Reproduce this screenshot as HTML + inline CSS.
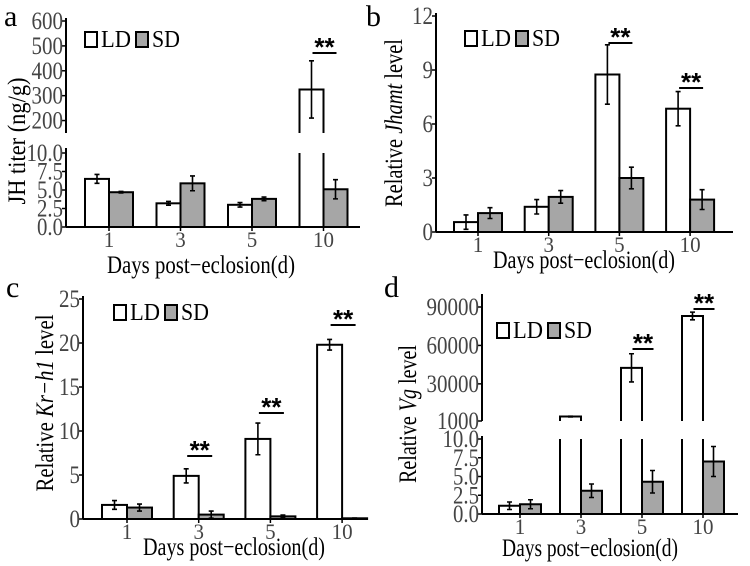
<!DOCTYPE html>
<html><head><meta charset="utf-8"><style>
html,body{margin:0;padding:0;background:#fff;}
svg{display:block;font-family:"Liberation Serif","Times New Roman",serif;}
</style></head><body>
<svg id="chart" width="750" height="566" viewBox="0 0 750 566" xmlns="http://www.w3.org/2000/svg"></svg>
<script>
const categories = ["1","3","5","10"];
// Panel a: JH titer
const aLD = [6.5, 3.2, 3.0, 325];
const aLDerr = [0.6, 0.25, 0.3, 115];
const aSD = [4.7, 5.9, 3.8, 5.1];
const aSDerr = [0.1, 1.0, 0.25, 1.3];
const aLowTicks = ["0.0","2.5","5.0","7.5","10.0"];
const aUpTicks = ["200","300","400","500","600"];
const aSig = [false,false,false,true];
// Panel b: Jhamt
const bLD = [0.55, 1.4, 8.75, 6.85];
const bLDerr = [0.4, 0.4, 1.65, 0.95];
const bSD = [1.05, 1.95, 3.0, 1.8];
const bSDerr = [0.3, 0.35, 0.6, 0.55];
const bTicks = ["0","3","6","9","12"];
const bSig = [false,false,true,true];
// Panel c: Kr-h1
const cLD = [1.6, 4.9, 9.1, 19.8];
const cLDerr = [0.5, 0.8, 1.8, 0.6];
const cSD = [1.3, 0.5, 0.3, 0.08];
const cSDerr = [0.4, 0.4, 0.15, 0.03];
const cTicks = ["0","5","10","15","20","25"];
const cSig = [false,true,true,true];
// Panel d: Vg
const dLD = [1.1, 4500, 42500, 83000];
const dLDerr = [0.5, 300, 11000, 3000];
const dSD = [1.3, 3.1, 4.3, 7.0];
const dSDerr = [0.6, 0.9, 1.5, 2.0];
const dLowTicks = ["0.0","2.5","5.0","7.5","10.0"];
const dUpTicks = ["1000","30000","60000","90000"];
const dSig = [false,false,true,true];

const NS = "http://www.w3.org/2000/svg";
const svg = document.getElementById("chart");
function mk(tag, attrs, parent){
  const e = document.createElementNS(NS, tag);
  for (const k in attrs) e.setAttribute(k, attrs[k]);
  (parent||svg).appendChild(e);
  return e;
}
function line(x1,y1,x2,y2,w,p){ return mk("line",{x1,y1,x2,y2,stroke:"#000","stroke-width":w||1.5},p); }
function tw(s){ let w=0; for (const ch of s) w += (ch==='.') ? 5 : 10.5; return w; }

function panel(cfg){
  const g = mk("g",{});
  
  
  const broken = !!cfg.upDomain;
  function y(v){
    if (!broken) return cfg.y0 + (cfg.yTop - cfg.y0) * v / cfg.max;
    if (v <= 10) return cfg.y0 + (cfg.lowTop - cfg.y0) * v / 10;
    const [u0,u1] = cfg.upDomain;
    return cfg.upBot + (cfg.upTop - cfg.upBot) * (v - u0) / (u1 - u0);
  }
  const step = cfg.step;
  function cx(i){ return cfg.x1 + i*step; }
  const xa = line(cfg.ax, cfg.y0, cfg.axEnd, cfg.y0, 2, g);
  
  
  if (broken){
    const l1 = line(cfg.ax, cfg.y0, cfg.ax, cfg.lowAxTop, 2, g);
    
    
    const l2 = line(cfg.ax, cfg.upBot, cfg.ax, cfg.upAxTop, 2, g);
    
    
  } else {
    const l = line(cfg.ax, cfg.y0, cfg.ax, cfg.yTop - 3, 2, g);
    
    
  }
  function tick(lbl, v){
    const ty = y(v);
    line(cfg.ax-4, ty, cfg.ax, ty, 1.5, g);
    const t = mk("text",{x:cfg.ax-3,y:ty+8,"text-anchor":"end",style:"font-size:25px",fill:"#444",textLength:tw(lbl),lengthAdjust:"spacingAndGlyphs"},g);
    t.textContent = lbl;
    
    
  }
  if (broken){
    cfg.lowTicks.forEach(l=>tick(l, parseFloat(l)));
    cfg.upTicks.forEach(l=>tick(l, parseFloat(l)));
  } else {
    cfg.ticks.forEach(l=>tick(l, parseFloat(l)));
  }
  const bw = cfg.bw;
  function bar(x, v, err, fill, nm){
    const yb = cfg.y0;
    if (broken && v > 10){
      const p1 = mk("path",{d:`M${x},${cfg.lowTop} L${x},${yb} M${x+bw},${cfg.lowTop} L${x+bw},${yb}`,stroke:"#000","stroke-width":2,fill:"none"},g);
      
      
      const yt = y(v);
      const p2 = mk("path",{d:`M${x},${cfg.upBot} L${x},${yt} L${x+bw},${yt} L${x+bw},${cfg.upBot}`,stroke:"#000","stroke-width":2,fill:fill},g);
      
      
      errbar(x+bw/2, y(v+err), y(Math.max(v-err, cfg.upDomain[0])));
    } else {
      const yt = y(v);
      const r = mk("rect",{x,y:yt,width:bw,height:Math.max(yb-yt,0.5),fill,stroke:"#000","stroke-width":2},g);
      
      
      errbar(x+bw/2, y(v+err), y(Math.max(v-err,0)));
    }
  }
  function errbar(x, y1, y2){
    const e = mk("path",{d:`M${x},${y1} L${x},${y2} M${x-2.5},${y1} L${x+2.5},${y1} M${x-2.5},${y2} L${x+2.5},${y2}`,stroke:"#000","stroke-width":1.6,fill:"none"},g);
    
    
  }
  categories.forEach((c,i)=>{
    const x = cx(i);
    bar(x-bw, cfg.LD[i], cfg.LDerr[i], "#fff", "bar-ld-"+c);
    bar(x, cfg.SD[i], cfg.SDerr[i], "#a6a6a6", "bar-sd-"+c);
    line(x, cfg.y0, x, cfg.y0+4, 1.5, g);
    const t = mk("text",{x:x,y:cfg.y0+20,"text-anchor":"middle",style:"font-size:22px",fill:"#444",textLength:tw(c),lengthAdjust:"spacingAndGlyphs"},g);
    t.textContent = c;
    
    
    if (cfg.sig[i]){
      const sy = cfg.sigY[i];
      line(x-bw/2+1, sy, x+bw/2+1, sy, 2, g);
      const s = mk("text",{x:x+1,y:sy+3,"text-anchor":"middle",style:"font-size:26px",
        "font-weight":"bold",fill:"#000","font-family":"Liberation Sans, sans-serif"},g);
      s.textContent = "**";
      
      
    }
  });
  const lg = mk("g",{},g);
  
  
  mk("rect",{x:cfg.legX,y:cfg.legY,width:12,height:15,fill:"#fff",stroke:"#000","stroke-width":2},lg);
  const t1 = mk("text",{x:cfg.legX+16,y:cfg.legY+15,style:"font-size:24px",fill:"#000",textLength:30,lengthAdjust:"spacingAndGlyphs"},lg); t1.textContent="LD";
  mk("rect",{x:cfg.legX+51,y:cfg.legY,width:12,height:15,fill:"#a6a6a6",stroke:"#000","stroke-width":2},lg);
  const t2 = mk("text",{x:cfg.legX+67,y:cfg.legY+15,style:"font-size:24px",fill:"#000",textLength:28,lengthAdjust:"spacingAndGlyphs"},lg); t2.textContent="SD";
  const xt = mk("text",{x:cfg.xtX,y:cfg.xtY,"text-anchor":"middle",style:"font-size:25px",fill:"#000",textLength:cfg.xtLen,lengthAdjust:"spacingAndGlyphs"},g);
  xt.textContent = "Days post\u2212eclosion(d)";
  
  
  const yt = mk("text",{x:0,y:0,"text-anchor":"middle",style:"font-size:25px",fill:"#000",textLength:cfg.ytLen,lengthAdjust:"spacingAndGlyphs",transform:`translate(${cfg.ytX},${cfg.ytY}) rotate(-90)`},g);
  yt.innerHTML = cfg.yTitle;
  
  
  const L = mk("text",{x:cfg.letX,y:cfg.letY,style:"font-size:30px",fill:"#000"},g);
  L.textContent = cfg.letter;
  
  
}

panel({name:"panel-a-jh-titer",letter:"a",letX:4,letY:26,ax:66,axEnd:360,y0:227,lowTop:153,lowAxTop:148,
  upDomain:[150,600],upBot:133,upTop:21,upAxTop:18,x1:109,step:71.5,bw:24,
  LD:aLD,LDerr:aLDerr,SD:aSD,SDerr:aSDerr,lowTicks:aLowTicks,upTicks:aUpTicks,sig:aSig,sigY:[0,0,0,53],
  legX:85,legY:32,xtX:201,xtY:273,xtLen:188,ytX:25,ytY:141,ytLen:127,yTitle:"JH titer (ng/g)"});
panel({name:"panel-b-jhamt",letter:"b",letX:366,letY:26,ax:436,axEnd:733,y0:232,yTop:16,max:12,x1:478,step:70.7,bw:24,
  LD:bLD,LDerr:bLDerr,SD:bSD,SDerr:bSDerr,ticks:bTicks,sig:bSig,sigY:[0,0,43,88],
  legX:465,legY:31,xtX:584,xtY:268,xtLen:182,ytX:402,ytY:123,ytLen:168,yTitle:'Relative <tspan font-style="italic">Jhamt</tspan> level'});
panel({name:"panel-c-krh1",letter:"c",letX:6,letY:297,ax:83,axEnd:367,y0:519,yTop:299,max:25,x1:127,step:71.7,bw:25,
  LD:cLD,LDerr:cLDerr,SD:cSD,SDerr:cSDerr,ticks:cTicks,sig:cSig,sigY:[0,456,413,325],
  legX:114,legY:305,xtX:234,xtY:555,xtLen:182,ytX:53,ytY:403,ytLen:177,yTitle:'Relative <tspan font-style="italic">Kr\u2212h1</tspan> level'});
panel({name:"panel-d-vg",letter:"d",letX:384,letY:297,ax:482,axEnd:738,y0:514,lowTop:439,lowAxTop:436,
  upDomain:[1000,90000],upBot:421,upTop:307,upAxTop:294,x1:520,step:61,bw:21,
  LD:dLD,LDerr:dLDerr,SD:dSD,SDerr:dSDerr,lowTicks:dLowTicks,upTicks:dUpTicks,sig:dSig,sigY:[0,0,349,309],
  legX:497,legY:323,xtX:590,xtY:556,xtLen:176,ytX:416,ytY:414,ytLen:138,yTitle:'Relative <tspan font-style="italic">Vg</tspan> level'});
</script>
</body></html>
